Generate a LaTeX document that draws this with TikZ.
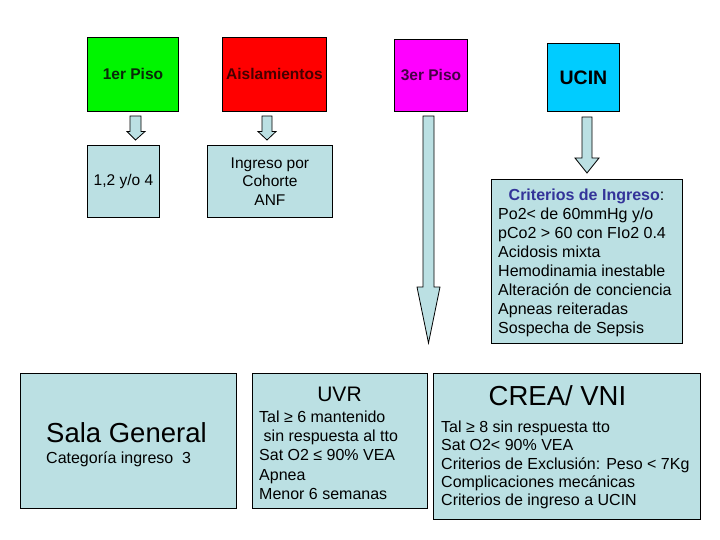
\documentclass[tikz,border=0pt]{standalone}
\usepackage{fontspec}
\setmainfont{Liberation Sans}
\definecolor{lb}{RGB}{187,224,227}
\definecolor{pgreen}{RGB}{0,245,0}
\definecolor{pred}{RGB}{255,0,0}
\definecolor{pmag}{RGB}{255,0,255}
\definecolor{pcyan}{RGB}{0,204,255}
\definecolor{headblue}{RGB}{51,51,153}
\definecolor{txtgreen}{RGB}{10,40,10}
\definecolor{txtred}{RGB}{70,0,0}
\definecolor{txtmag}{RGB}{70,0,70}
\begin{document}
\begin{tikzpicture}[x=1pt,y=-1pt,
  box/.style={draw=black,line width=0.9pt,inner sep=0pt,anchor=north west},
  hdr/.style={box,font=\fontsize{15.5}{18}\selectfont\bfseries},
  small/.style={box,fill=lb,font=\fontsize{15.5}{18.7}\selectfont,align=center},
  body/.style={inner sep=0pt,font=\fontsize{16}{19}\selectfont},
  blockarrow/.style={draw=black,line width=0.8pt,fill=lb,line join=miter}]
\useasboundingbox (0,0) rectangle (720,540);

% top header boxes
\node[hdr,fill=pgreen,text=txtgreen,minimum width=91pt,minimum height=74pt] (p1) at (87,37) {1er Piso};
\node[hdr,fill=pred,text=txtred,minimum width=104pt,minimum height=74pt] (ais) at (222,37) {Aislamientos};
\node[hdr,fill=pmag,text=txtmag,minimum width=73pt,minimum height=72pt] (p3) at (394,39) {3er Piso};
\node[hdr,fill=pcyan,minimum width=72pt,minimum height=68pt,font=\fontsize{19.5}{22}\selectfont\bfseries] (ucin) at (547,43) {UCIN};

% second row
\node[small,minimum width=72pt,minimum height=72pt] (b1) at (87,145) {1,2 y/o 4};
\node[small,minimum width=125pt,minimum height=72pt] (b2) at (207,145) {Ingreso por\\Cohorte\\ANF};

% criterios box
\node[box,fill=lb,minimum width=191pt,minimum height=164pt] (crit) at (491,179) {};
\node[body,anchor=base] (crith) at (586.5,200.5) {\textcolor{headblue}{\textbf{Criterios de Ingreso}}:};
\foreach \t [count=\i] in {Po2< de 60mmHg y/o, pCo2 > 60 con FIo2 0.4, Acidosis mixta, Hemodinamia inestable, Alteración de conciencia, Apneas reiteradas, Sospecha de Sepsis}
  \node[body,anchor=base west] (crit\i) at (498,{200+19*\i}) {\t};

% bottom boxes
\node[box,fill=lb,minimum width=216pt,minimum height=135pt] (sala) at (20,373) {};
\node[inner sep=0pt,anchor=base west,font=\fontsize{27.5}{30}\selectfont] (salat) at (46,442) {Sala General};
\node[body,anchor=base west] (salac) at (46,463) {Categoría ingreso~~3};

\node[box,fill=lb,minimum width=175pt,minimum height=135pt] (uvr) at (252,373) {};
\node[inner sep=0pt,anchor=base,font=\fontsize{21}{24}\selectfont] (uvrt) at (339.5,401) {UVR};
\foreach \t [count=\i] in {Tal ≥ 6 mantenido, \hspace*{4.5pt}sin respuesta al tto, Sat O2 ≤ 90\% VEA, Apnea, Menor 6 semanas}
  \node[body,anchor=base west] (uvr\i) at (259,{402.6+19.4*\i}) {\t};

\node[box,fill=lb,minimum width=267pt,minimum height=146pt] (crea) at (433,373) {};
\node[inner sep=0pt,anchor=base,font=\fontsize{27.5}{30}\selectfont] (creat) at (557.5,405) {CREA/ VNI};
\foreach \t [count=\i] in {Tal ≥ 8 sin respuesta tto, Sat O2< 90\% VEA, Criterios de Exclusión: Peso < 7Kg, Complicaciones mecánicas, Criterios de ingreso a UCIN}
  \node[body,anchor=base west] (crea\i) at (441,{414.2+18.3*\i}) {\t};

% block arrows
\draw[blockarrow] (130,116) -- (141,116) -- (141,131.5) -- (145,131.5) -- (135.5,140) -- (127,131.5) -- (130,131.5) -- cycle;
\draw[blockarrow] (262,116) -- (272,116) -- (272,131.5) -- (276,131.5) -- (267,140) -- (258,131.5) -- (262,131.5) -- cycle;
\draw[blockarrow] (423,116) -- (434,116) -- (434,287) -- (440,287) -- (428.5,343) -- (417,287) -- (423,287) -- cycle;
\draw[blockarrow] (582,117) -- (592,117) -- (592,158) -- (599,158) -- (587,173) -- (575,158) -- (582,158) -- cycle;
\end{tikzpicture}
\end{document}
